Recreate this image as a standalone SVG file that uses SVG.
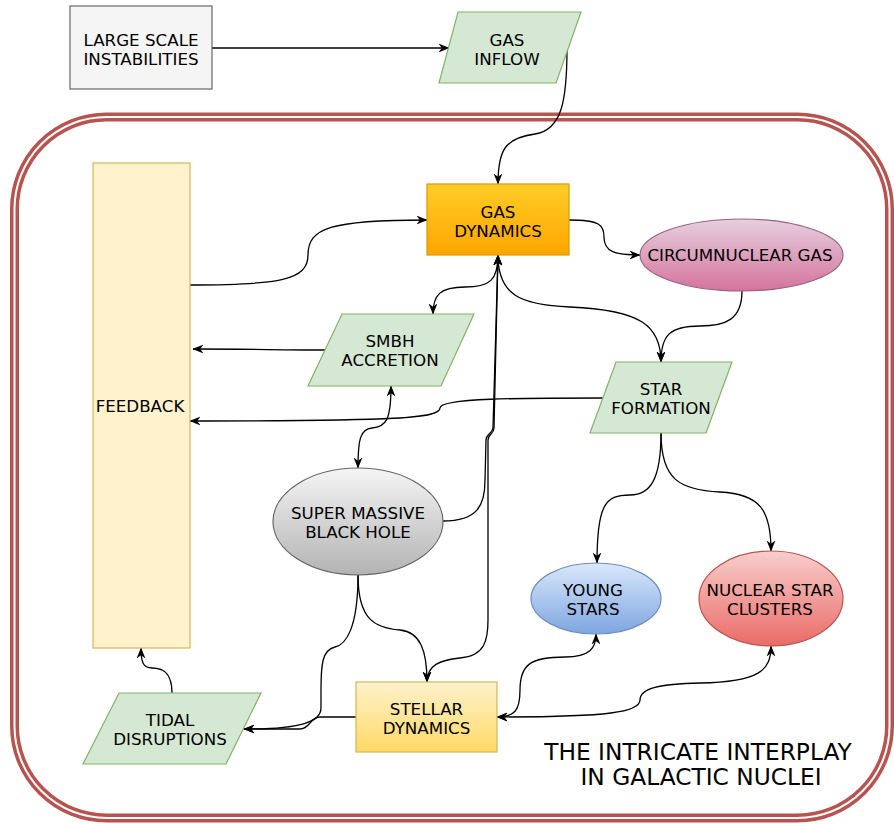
<svg xmlns="http://www.w3.org/2000/svg" width="894" height="824" viewBox="0 0 894 824">
<style>
text{font-family:"DejaVu Sans","Verdana",sans-serif;font-size:16.7px;fill:#000;text-anchor:middle}
.e{fill:none;stroke:#000;stroke-width:1.3}
.para{fill:#d5e8d4;stroke:#82b366;stroke-width:1.2}
.title{font-size:23.3px}
</style>
<defs>
<marker id="ar" viewBox="0 0 10 10" refX="9.5" refY="5" markerWidth="11" markerHeight="11" markerUnits="userSpaceOnUse" orient="auto-start-reverse">
<path d="M0,1 L10,5 L0,9 L3,5 z" fill="#000"/>
</marker>
<linearGradient id="gOrange" x1="0" y1="0" x2="0" y2="1"><stop offset="0" stop-color="#ffcd28"/><stop offset="1" stop-color="#ffa500"/></linearGradient>
<linearGradient id="gPink" x1="0" y1="0" x2="0" y2="1"><stop offset="0" stop-color="#e6d0de"/><stop offset="1" stop-color="#d5739d"/></linearGradient>
<linearGradient id="gGray" x1="0" y1="0" x2="0" y2="1"><stop offset="0" stop-color="#f5f5f5"/><stop offset="1" stop-color="#b3b3b3"/></linearGradient>
<linearGradient id="gBlue" x1="0" y1="0" x2="0" y2="1"><stop offset="0" stop-color="#dae8fc"/><stop offset="1" stop-color="#7ea6e0"/></linearGradient>
<linearGradient id="gRed" x1="0" y1="0" x2="0" y2="1"><stop offset="0" stop-color="#f8cecc"/><stop offset="1" stop-color="#ea6b66"/></linearGradient>
<linearGradient id="gYellow" x1="0" y1="0" x2="0" y2="1"><stop offset="0" stop-color="#fff2cc"/><stop offset="1" stop-color="#ffd966"/></linearGradient>
</defs>

<g id="container">
<rect x="14.5" y="117" width="875" height="701" rx="92" ry="92" fill="none" stroke="#b85450" stroke-width="9"/>
<rect x="14.5" y="117" width="875" height="701" rx="92" ry="92" fill="none" stroke="#fff" stroke-width="2"/>
</g>

<g id="connectors">
<path class="e" d="M212,48 L449,48" marker-end="url(#ar)"/>
<path class="e" d="M567,48 C567,100 562,130 535,134 C505,138 498,150 498,184" marker-end="url(#ar)"/>
<path class="e" d="M190,285 C280,285 308,280 308,255 C308,228 330,220 427,220" marker-end="url(#ar)"/>
<path class="e" d="M569,220 C600,220 604,225 604,237 C604,252 615,255 640,255" marker-end="url(#ar)"/>
<path class="e" d="M498,255 C498,280 490,287 465,287 C440,287 433,295 433,314" marker-start="url(#ar)" marker-end="url(#ar)"/>
<path class="e" d="M498,255 C498,295 520,305 570,307 C640,310 661,325 661,362" marker-start="url(#ar)" marker-end="url(#ar)"/>
<path class="e" d="M742,291 C742,320 725,326 700,326 C670,326 661,335 661,362" marker-end="url(#ar)"/>
<path class="e" d="M325,350 C280,350 250,349 193,349" marker-end="url(#ar)"/>
<path class="e" d="M604,398 C520,398 440,398 440,408 C440,418 400,421 190,421" marker-end="url(#ar)"/>
<path class="e" d="M391,386 C391,420 386,427 372,428 C360,429 358,440 358,468" marker-start="url(#ar)" marker-end="url(#ar)"/>
<path class="e" d="M443,521 C478,521 485,505 485,480 L486,440 C486,434 492,434 493,428 L498,255" marker-end="url(#ar)"/>
<path class="e" d="M427,682 C427,665 440,660 460,658 C485,656 488,640 488,620 L488,440 C488,434 494,434 494,428 L498,255" marker-start="url(#ar)" marker-end="url(#ar)"/>
<path class="e" d="M358,575 C358,620 375,628 400,630 C420,632 427,650 427,682" marker-end="url(#ar)"/>
<path class="e" d="M358,575 C358,630 345,645 335,647 C322,650 321,665 321,690 L321,708 C321,722 300,729 244,729" marker-end="url(#ar)"/>
<path class="e" d="M356,717 L320,717 C310,717 310,729 300,729 L244,729" marker-end="url(#ar)"/>
<path class="e" d="M172,693 C172,670 160,668 152,668 C143,668 141,662 141,648" marker-end="url(#ar)"/>
<path class="e" d="M661,433 C661,480 650,495 630,495 C605,495 597,505 597,563" marker-end="url(#ar)"/>
<path class="e" d="M661,433 C661,480 680,490 720,492 C760,494 771,510 771,551" marker-end="url(#ar)"/>
<path class="e" d="M497,717 C515,717 520,710 520,690 C520,665 530,657 565,657 C590,657 596,648 596,634" marker-start="url(#ar)" marker-end="url(#ar)"/>
<path class="e" d="M497,717 C610,717 640,712 640,700 C640,688 660,684 700,683 C760,682 771,670 771,646" marker-start="url(#ar)" marker-end="url(#ar)"/>
</g>

<g id="large-scale-instabilities">
<rect x="70" y="6" width="142" height="83" fill="#f5f5f5" stroke="#666666" stroke-width="1.2"/>
<text x="141" y="46">LARGE SCALE</text>
<text x="141" y="65">INSTABILITIES</text>
</g>

<g id="gas-inflow">
<polygon class="para" points="458,12 581,12 556,83 439,83"/>
<text x="507" y="46">GAS</text>
<text x="507" y="65">INFLOW</text>
</g>

<g id="gas-dynamics">
<rect x="427" y="184" width="142" height="71" fill="url(#gOrange)" stroke="#d79b00" stroke-width="1.2"/>
<text x="498" y="218">GAS</text>
<text x="498" y="237">DYNAMICS</text>
</g>

<g id="circumnuclear-gas">
<ellipse cx="741.5" cy="255" rx="101.5" ry="36" fill="url(#gPink)" stroke="#996185" stroke-width="1.2"/>
<text x="740" y="261">CIRCUMNUCLEAR GAS</text>
</g>

<g id="feedback">
<rect x="93" y="163" width="97" height="485" fill="#fff2cc" stroke="#d6b656" stroke-width="1.2"/>
<text x="140" y="412">FEEDBACK</text>
</g>

<g id="smbh-accretion">
<polygon class="para" points="342,314 474,314 441,386 308,386"/>
<text x="390" y="347">SMBH</text>
<text x="390" y="366">ACCRETION</text>
</g>

<g id="star-formation">
<polygon class="para" points="616,362 732,362 706,433 590,433"/>
<text x="661" y="395">STAR</text>
<text x="661" y="414">FORMATION</text>
</g>

<g id="super-massive-black-hole">
<ellipse cx="358" cy="521.5" rx="85" ry="53.5" fill="url(#gGray)" stroke="#666666" stroke-width="1.2"/>
<text x="358" y="519">SUPER MASSIVE</text>
<text x="358" y="538">BLACK HOLE</text>
</g>

<g id="young-stars">
<ellipse cx="596" cy="598.5" rx="65" ry="35.5" fill="url(#gBlue)" stroke="#6c8ebf" stroke-width="1.2"/>
<text x="593" y="596">YOUNG</text>
<text x="593" y="615">STARS</text>
</g>

<g id="nuclear-star-clusters">
<ellipse cx="771" cy="598.5" rx="72" ry="47.5" fill="url(#gRed)" stroke="#b85450" stroke-width="1.2"/>
<text x="770" y="596">NUCLEAR STAR</text>
<text x="770" y="615">CLUSTERS</text>
</g>

<g id="stellar-dynamics">
<rect x="356" y="682" width="141" height="70" fill="url(#gYellow)" stroke="#d6b656" stroke-width="1.2"/>
<text x="426.5" y="715">STELLAR</text>
<text x="426.5" y="734">DYNAMICS</text>
</g>

<g id="tidal-disruptions">
<polygon class="para" points="119,693 261,693 226,764 83,764"/>
<text x="170" y="726">TIDAL</text>
<text x="170" y="745">DISRUPTIONS</text>
</g>

<g id="title">
<text class="title" x="698" y="760">THE INTRICATE INTERPLAY</text>
<text class="title" x="701" y="785">IN GALACTIC NUCLEI</text>
</g>
</svg>
